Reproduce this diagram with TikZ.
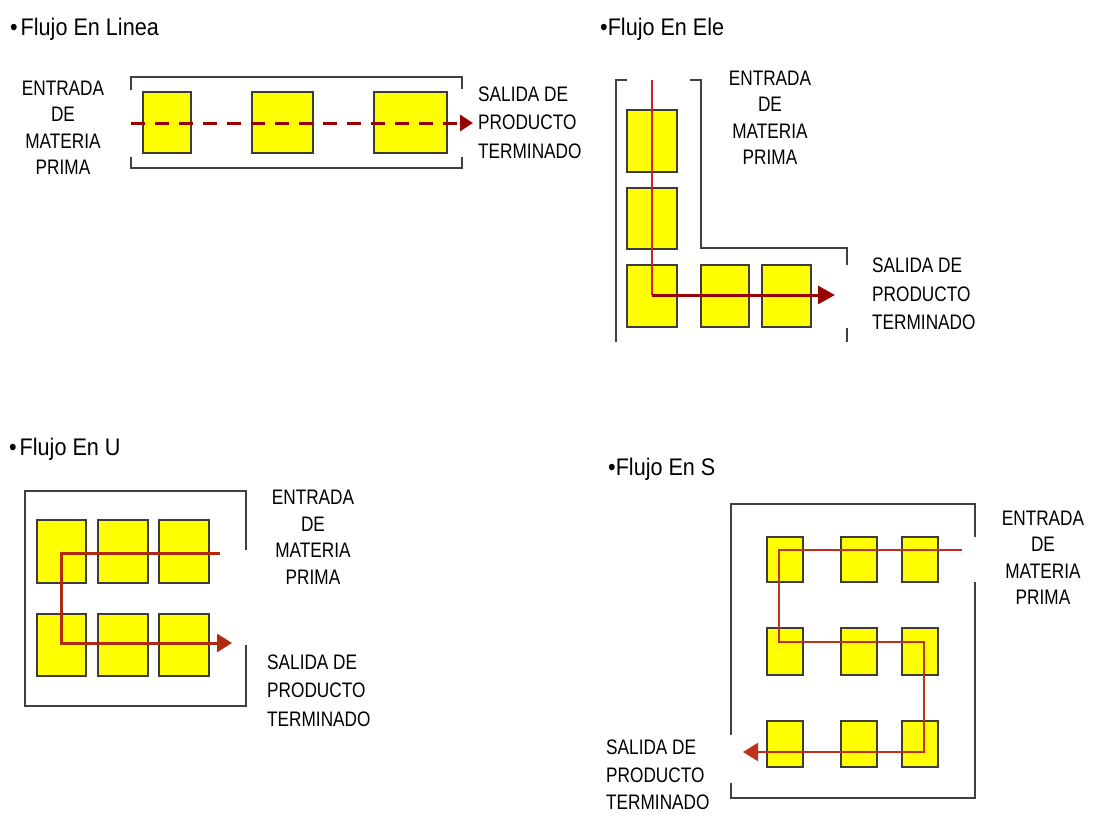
\documentclass[tikz,border=0pt]{standalone}
\usepackage{fontspec}
\usetikzlibrary{arrows.meta}
\newfontfamily\labfont[FakeStretch=0.82]{Liberation Sans}
\newfontfamily\ttlfont[FakeStretch=0.9]{Liberation Sans}
\definecolor{boxc}{HTML}{3C3C3C}
\definecolor{linec}{HTML}{404040}
\definecolor{ylw}{HTML}{FFFF00}
\definecolor{arrA}{HTML}{990000}
\definecolor{arrB}{HTML}{D02020}
\definecolor{arrC}{HTML}{B02A10}
\definecolor{arrD}{HTML}{C0301A}
\tikzset{
  wbox/.style={draw=boxc, fill=ylw, line width=1.5pt, inner sep=0pt, rectangle},
  outline/.style={draw=linec, line width=1.5pt},
  lblc/.style={font=\labfont\fontsize{21}{26.5}\selectfont, align=center, inner sep=0pt},
  lbll/.style={font=\labfont\fontsize{21}{28.5}\selectfont, align=left, inner sep=0pt, anchor=west},
  lbllt/.style={font=\labfont\fontsize{21}{27.5}\selectfont, align=left, inner sep=0pt, anchor=west},
  ttl/.style={font=\ttlfont\fontsize{24}{28}\selectfont, inner sep=0pt, anchor=base west},
}
\begin{document}
\begin{tikzpicture}[x=1pt,y=-1pt]
\fill[white] (0,0) rectangle (1094,816);
\path[use as bounding box] (0,0) rectangle (1094,816);

% ---------- Flujo En Linea ----------
\node[ttl] (t1) at (10,35.6) {•\hspace{3pt}Flujo En Linea};
\draw[outline] (131,90) -- (131,77) -- (462,77) -- (462,89);
\draw[outline] (131,157) -- (131,168) -- (462,168) -- (462,157);
\node[wbox, minimum width=48pt, minimum height=61pt] (l1) at (167,122.5) {};
\node[wbox, minimum width=61pt, minimum height=61pt] (l2) at (282.5,122.5) {};
\node[wbox, minimum width=73pt, minimum height=61pt] (l3) at (410.5,122.5) {};
\coordinate (ls) at (131,123);
\coordinate (le) at (473,123);
\draw[arrA, line width=3pt, dash pattern=on 14pt off 10pt, -{Triangle[length=13pt,width=16pt]}] (ls) -- (le);
\node[lblc] (in1) at (63,127.75) {ENTRADA\\DE\\MATERIA\\PRIMA};
\node[lbll] (out1) at (478,122.5) {SALIDA DE\\PRODUCTO\\TERMINADO};

% ---------- Flujo En Ele ----------
\node[ttl] (t2) at (600,35.6) {•Flujo En Ele};
\draw[outline] (627,80) -- (616,80) -- (616,342);
\draw[outline] (690,80) -- (701,80) -- (701,248) -- (847,248) -- (847,265);
\draw[outline] (847,328) -- (847,342);
\node[wbox, minimum width=50pt, minimum height=62pt] (e1) at (652,141) {};
\node[wbox, minimum width=50pt, minimum height=61pt] (e2) at (652,218.5) {};
\node[wbox, minimum width=50pt, minimum height=62pt] (e3) at (652,296) {};
\node[wbox, minimum width=48pt, minimum height=62pt] (e4) at (725,296) {};
\node[wbox, minimum width=49pt, minimum height=62pt] (e5) at (786.5,296) {};
\coordinate (es) at (652,80);
\coordinate (ec) at (652,295);
\coordinate (ee) at (835,295);
\draw[arrB, line width=1.6pt] (es) -- (ec);
\draw[arrA, line width=3pt, -{Triangle[length=17pt,width=18pt]}] (ec) -- (ee);
\node[lblc] (in2) at (770,118) {ENTRADA\\DE\\MATERIA\\PRIMA};
\node[lbll] (out2) at (872,294) {SALIDA DE\\PRODUCTO\\TERMINADO};

% ---------- Flujo En U ----------
\node[ttl] (t3) at (9,455.6) {•\hspace{3pt}Flujo En U};
\draw[outline] (246,550) -- (246,491) -- (25,491) -- (25,706) -- (246,706) -- (246,645);
\node[wbox, minimum width=49pt, minimum height=63pt] (u1) at (61.5,551.5) {};
\node[wbox, minimum width=50pt, minimum height=63pt] (u2) at (123,551.5) {};
\node[wbox, minimum width=50pt, minimum height=63pt] (u3) at (184,551.5) {};
\node[wbox, minimum width=49pt, minimum height=62pt] (u4) at (61.5,645) {};
\node[wbox, minimum width=50pt, minimum height=62pt] (u5) at (123,645) {};
\node[wbox, minimum width=50pt, minimum height=62pt] (u6) at (184,645) {};
\coordinate (us) at (220,553);
\coordinate (ue) at (232,643);
\draw[arrC, line width=3pt, line join=miter, -{Triangle[length=15pt,width=18pt]}] (us) -- (61,553) -- (61,643) -- (ue);
\node[lblc] (in3) at (313,537.5) {ENTRADA\\DE\\MATERIA\\PRIMA};
\node[lbll] (out3) at (267,690.5) {SALIDA DE\\PRODUCTO\\TERMINADO};

% ---------- Flujo En S ----------
\node[ttl] (t4) at (608,475.6) {•Flujo En S};
\draw[outline] (975,537) -- (975,504) -- (731,504) -- (731,735);
\draw[outline] (731,783) -- (731,798) -- (975,798) -- (975,582);
\node[wbox, minimum width=36pt, minimum height=45pt] (s1) at (785,559.5) {};
\node[wbox, minimum width=36pt, minimum height=45pt] (s2) at (859,559.5) {};
\node[wbox, minimum width=36pt, minimum height=45pt] (s3) at (920,559.5) {};
\node[wbox, minimum width=36pt, minimum height=47pt] (s4) at (785,651.5) {};
\node[wbox, minimum width=36pt, minimum height=47pt] (s5) at (859,651.5) {};
\node[wbox, minimum width=36pt, minimum height=47pt] (s6) at (920,651.5) {};
\node[wbox, minimum width=36pt, minimum height=46pt] (s7) at (785,744) {};
\node[wbox, minimum width=36pt, minimum height=46pt] (s8) at (859,744) {};
\node[wbox, minimum width=36pt, minimum height=46pt] (s9) at (920,744) {};
\coordinate (ss) at (962,550);
\coordinate (se) at (743,752);
\draw[arrD, line width=2.2pt, line join=miter, -{Triangle[length=15pt,width=18pt]}] (ss) -- (779,550) -- (779,642) -- (924,642) -- (924,752) -- (se);
\node[lblc] (in4) at (1043,558) {ENTRADA\\DE\\MATERIA\\PRIMA};
\node[lbllt] (out4) at (606,775) {SALIDA DE\\PRODUCTO\\TERMINADO};
\end{tikzpicture}
\end{document}
